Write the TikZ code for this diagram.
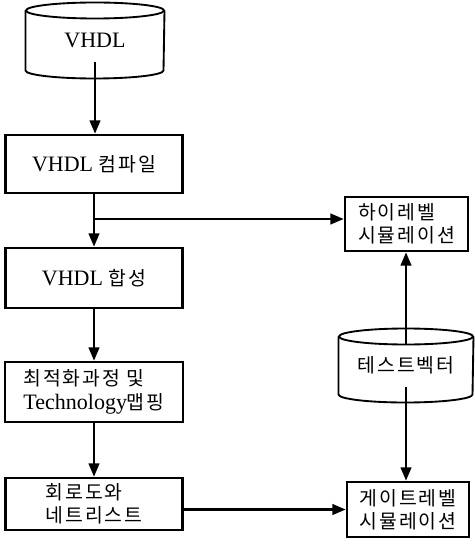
\documentclass[tikz,border=0pt]{standalone}
\usepackage{fontspec}
\setmainfont{Liberation Serif}
\newfontfamily\kr{Noto Sans CJK KR}[Scale=0.88, LetterSpace=10]
\usetikzlibrary{arrows.meta}

\tikzset{every picture/.style={line width=0.75pt}}
\tikzset{
  flowbox/.style={draw, line width=2pt, rectangle, inner sep=0pt, align=left,
    font=\fontsize{16.5}{17.5}\selectfont},
  dbtext/.style={inner sep=0pt, font=\fontsize{16.5}{17.5}\selectfont},
  cyl/.style={line width=1.4pt},
  flow/.style={line width=1.6pt, -{Triangle[length=10pt,width=8pt]}},
}

\begin{document}
\begin{tikzpicture}[x=0.75pt,y=0.75pt,yscale=-1,xscale=1]
\useasboundingbox (0,0) rectangle (474,545);

%Shape: Can [id:vhdl]
\node (vhdl) at (95,40.5) [dbtext, minimum width=103.5pt, minimum height=44.25pt] {VHDL};
\draw[cyl] (vhdl.north) ellipse [x radius=69, y radius=8];
\draw[cyl] (vhdl.north west) -- (vhdl.south west) arc[start angle=180, end angle=0, x radius=69, y radius=8] -- (vhdl.north east);
\coordinate (vhdlb) at ([yshift=-6pt]vhdl.south);

%Shape: Rectangle [id:compile]
\node (compile) at (94,164) [flowbox, minimum width=132.75pt, minimum height=43.5pt] {VHDL {\kr 컴파일}};
%Shape: Rectangle [id:synth]
\node (synth) at (94,278) [flowbox, minimum width=132.75pt, minimum height=45pt] {VHDL {\kr 합성}};
%Shape: Rectangle [id:opt]
\node (opt) at (94,392) [flowbox, minimum width=133.5pt, minimum height=45pt] {{\kr 최적화과정 및}\\Technology{\kr 맵핑}};
%Shape: Rectangle [id:netlist]
\node (netlist) at (94,504) [flowbox, minimum width=132.75pt, minimum height=39pt] {{\kr 회로도와}\\{\kr 네트리스트}};

%Shape: Rectangle [id:hsim]
\node (hsim) at (406.5,224) [flowbox, minimum width=92.25pt, minimum height=40.5pt] {{\kr 하이레벨}\\{\kr 시뮬레이션}};
%Shape: Rectangle [id:gsim]
\node (gsim) at (408,509.5) [flowbox, minimum width=91.5pt, minimum height=41.25pt] {{\kr 게이트레벨}\\{\kr 시뮬레이션}};

%Shape: Can [id:tv]
\node (tv) at (406,365.5) [dbtext, minimum width=100.5pt, minimum height=42.75pt] {\kr 테스트벡터};
\draw[cyl] (tv.north) ellipse [x radius=67, y radius=8];
\draw[cyl] (tv.north west) -- (tv.south west) arc[start angle=180, end angle=0, x radius=67, y radius=8] -- (tv.north east);
\coordinate (tvt) at ([yshift=6pt]tv.north);
\coordinate (tvb) at ([yshift=-6pt]tv.south);

%Straight Lines
\coordinate (br) at (94,219);
\draw[flow] (vhdlb) -- (vhdlb |- compile.north);
\draw[flow] (compile) -- (synth);
\draw[flow] (br) -- (br -| hsim.west);
\draw[flow] (synth) -- (opt);
\draw[flow] (opt) -- (netlist);
\draw[flow] (netlist.east |- gsim.west) -- (gsim.west);
\draw[flow] (tvt) -- (tvt |- hsim.south);
\draw[flow] (tvb) -- (tvb |- gsim.north);

\end{tikzpicture}
\end{document}
